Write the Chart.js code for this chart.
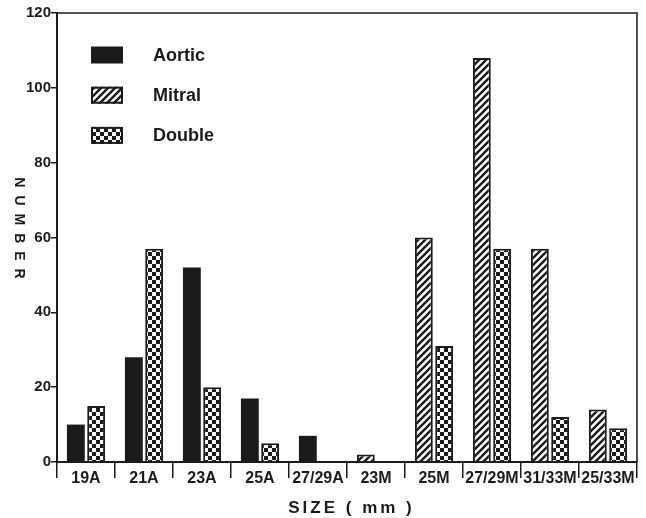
<!DOCTYPE html>
<html><head><meta charset="utf-8">
<script src="https://cdn.jsdelivr.net/npm/chart.js@4/dist/chart.umd.min.js"></script>
<style>html,body{margin:0;padding:0;background:#fff}#wrap{width:646px;height:518px}</style>
</head><body><div id="wrap"><canvas id="c" width="646" height="518"></canvas></div>
<script>
// ---- data ----
const categories = ['19A', '21A', '23A', '25A', '27/29A', '23M', '25M', '27/29M', '31/33M', '25/33M'];
const seriesNames = ['Aortic', 'Mitral', 'Double'];
const aortic = [10, 28, 52, 17, 7, null, null, null, null, null];
const mitral = [null, null, null, null, null, 2, 60, 108, 57, 14];
const doubleValve = [15, 57, 20, 5, 0, 0, 31, 57, 12, 9];
const yTickValues = [0, 20, 40, 60, 80, 100, 120];
const xTitle = 'SIZE ( mm )';
const yTitle = 'NUMBER';

// ---- styles ----
const INK = '#1b1b1b';
const FAMILY = '"Liberation Sans", Arial, Helvetica, sans-serif';

function hatchPattern() {
  const s = 7, c = document.createElement('canvas');
  c.width = s; c.height = s;
  const g = c.getContext('2d');
  g.fillStyle = '#fff'; g.fillRect(0, 0, s, s);
  g.strokeStyle = INK; g.lineWidth = 2.4; g.lineCap = 'square';
  g.beginPath();
  for (const k of [-s, 0, s]) { g.moveTo(k - 1, s + 1); g.lineTo(k + s + 1, -1); }
  g.stroke();
  return g.createPattern(c, 'repeat');
}
function checkerPattern() {
  const s = 8, h = 4, c = document.createElement('canvas');
  c.width = s; c.height = s;
  const g = c.getContext('2d');
  g.fillStyle = '#fff'; g.fillRect(0, 0, s, s);
  g.fillStyle = INK; g.fillRect(0, 0, h, h); g.fillRect(h, h, h, h);
  return g.createPattern(c, 'repeat');
}

function spacedText(ctx, text, x, y, spacing) {
  let total = 0;
  const widths = [...text].map(ch => ctx.measureText(ch).width);
  widths.forEach((w, i) => { total += w + (i < widths.length - 1 ? spacing : 0); });
  let cx = x - total / 2;
  ctx.textAlign = 'left';
  [...text].forEach((ch, i) => { ctx.fillText(ch, cx, y); cx += widths[i] + spacing; });
}

const decorPlugin = {
  id: 'decor',
  afterDraw(chart) {
    const {ctx, chartArea: a} = chart;
    ctx.save();
    // frame top and right
    ctx.strokeStyle = INK; ctx.lineWidth = 1.5;
    ctx.beginPath();
    ctx.moveTo(a.left, a.top); ctx.lineTo(a.right, a.top); ctx.lineTo(a.right, a.bottom);
    ctx.stroke();
    // axis titles
    ctx.fillStyle = INK;
    ctx.textBaseline = 'middle';
    ctx.font = 'bold 17px ' + FAMILY;
    spacedText(ctx, xTitle, 350, 508, 3);
    ctx.save();
    ctx.translate(19, 228);
    ctx.rotate(Math.PI / 2);
    ctx.font = 'bold 14px ' + FAMILY;
    spacedText(ctx, yTitle, 0, 0, 8);
    ctx.restore();
    // legend
    chart.data.datasets.forEach((ds, i) => {
      const cy = 55 + i * 40.2;
      ctx.fillStyle = ds.backgroundColor;
      ctx.fillRect(91, cy - 8.5, 32, 17);
      if (ds.borderWidth) {
        ctx.strokeStyle = INK; ctx.lineWidth = 2;
        ctx.strokeRect(92, cy - 7.5, 30, 15);
      }
      ctx.fillStyle = INK;
      ctx.font = 'bold 18px ' + FAMILY;
      ctx.textAlign = 'left';
      ctx.textBaseline = 'middle';
      ctx.fillText(ds.label, 153, cy + 1);
    });
    ctx.restore();
  }
};

const chart = new Chart(document.getElementById('c'), {
  type: 'bar',
  data: {
    labels: categories,
    datasets: [
      {label: seriesNames[0], data: aortic, backgroundColor: INK, borderColor: INK, borderWidth: 0},
      {label: seriesNames[1], data: mitral, backgroundColor: hatchPattern(), borderColor: INK, borderWidth: 2},
      {label: seriesNames[2], data: doubleValve, backgroundColor: checkerPattern(), borderColor: INK, borderWidth: 2}
    ]
  },
  options: {
    responsive: false,
    animation: false,
    events: [],
    layout: {padding: {left: 0, right: 9, top: 13, bottom: 0}},
    datasets: {bar: {categoryPercentage: 0.7, barPercentage: 0.88, skipNull: true}},
    plugins: {legend: {display: false}, tooltip: {enabled: false}},
    scales: {
      x: {
        grid: {offset: true, drawOnChartArea: false, drawTicks: true, tickLength: 16, color: INK, lineWidth: 1.5},
        border: {display: true, color: INK, width: 2},
        ticks: {color: INK, font: {family: FAMILY, size: 16, weight: 'bold'}, padding: -9, maxRotation: 0, autoSkip: false},
        afterFit(s) { s.height = 56; }
      },
      y: {
        min: 0, max: 120,
        grid: {drawOnChartArea: false, drawTicks: true, tickLength: 6, color: INK, lineWidth: 1.5},
        border: {display: true, color: INK, width: 2},
        ticks: {color: INK, font: {family: FAMILY, size: 15, weight: 'bold'}, padding: 0},
        afterBuildTicks(s) { s.ticks = yTickValues.map(v => ({value: v})); },
        afterFit(s) { s.width = 57; }
      }
    }
  },
  plugins: [decorPlugin]
});
</script>
</body></html>
